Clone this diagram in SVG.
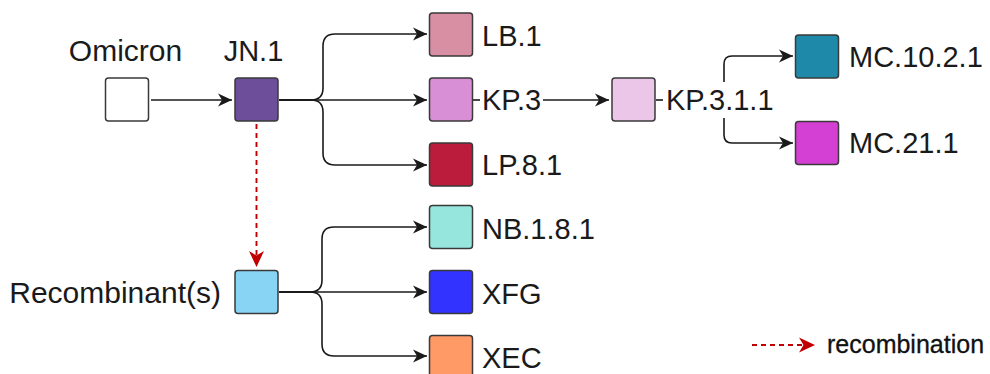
<svg xmlns="http://www.w3.org/2000/svg" width="990" height="374" viewBox="0 0 990 374">
  <defs>
    <marker id="arrow" markerUnits="userSpaceOnUse" markerWidth="16" markerHeight="14" refX="14" refY="6.5" orient="auto" overflow="visible">
      <path d="M0,0 L14,6.5 L0,13 L4,6.5 Z" fill="#1a1a1a"/>
    </marker>
    <marker id="arrow-red" markerUnits="userSpaceOnUse" markerWidth="18" markerHeight="16" refX="16" refY="7.5" orient="auto" overflow="visible">
      <path d="M0,0 L16,7.5 L0,15 L4.5,7.5 Z" fill="#c00000"/>
    </marker>
    <style>
      .box { stroke: #3a3a3a; stroke-width: 1.5; }
      .lbl { font-family: "Liberation Sans", Arial, sans-serif; font-size: 29px; fill: #1a1a1a; }
      .lbl-lg { font-size: 30px; }
      .legend { font-family: "Liberation Sans", Arial, sans-serif; font-size: 25px; fill: #111111; stroke: #111111; stroke-width: 0.3; }
      .edge { fill: none; stroke: #1a1a1a; stroke-width: 1.6; }
      .tick { fill: none; stroke: #1a1a1a; stroke-width: 1.6; }
      .recomb { fill: none; stroke: #c00000; stroke-width: 1.9; stroke-dasharray: 5 4; }
    </style>
  </defs>

  <!-- connectors -->
  <g id="connectors">
    <path class="edge" d="M151,100 H232" marker-end="url(#arrow)"/>
    <!-- JN.1 fan-out -->
    <path class="edge" d="M279,100 H427" marker-end="url(#arrow)"/>
    <path class="edge" d="M279,100 H311 Q323,100 323,88 V46 Q323,34 335,34 H427" marker-end="url(#arrow)"/>
    <path class="edge" d="M279,100 H311 Q323,100 323,112 V153 Q323,165 335,165 H427" marker-end="url(#arrow)"/>
    <!-- KP.3 to KP.3.1.1 -->
    <path class="tick" d="M473,100 H480"/>
    <path class="edge" d="M543,100 H609" marker-end="url(#arrow)"/>
    <path class="tick" d="M656,100 H663"/>
    <!-- KP.3.1.1 fan-out -->
    <path class="edge" d="M724,82 V64 Q724,56 732,56 H793" marker-end="url(#arrow)"/>
    <path class="edge" d="M724,118 V135 Q724,143 732,143 H793" marker-end="url(#arrow)"/>
    <!-- Recombinant fan-out -->
    <path class="edge" d="M279,292 H427" marker-end="url(#arrow)"/>
    <path class="edge" d="M279,292 H310 Q322,292 322,280 V239 Q322,227 334,227 H427" marker-end="url(#arrow)"/>
    <path class="edge" d="M279,292 H310 Q322,292 322,304 V344 Q322,356 334,356 H427" marker-end="url(#arrow)"/>
    <!-- recombination link -->
    <path class="recomb" d="M256.5,124 V267" marker-end="url(#arrow-red)"/>
  </g>

  <!-- nodes -->
  <g id="omicron">
    <rect class="box" x="105.5" y="78" width="43" height="43" rx="3" fill="#ffffff"/>
    <text class="lbl lbl-lg" x="125.5" y="61" text-anchor="middle">Omicron</text>
  </g>
  <g id="jn1">
    <rect class="box" x="235" y="78" width="43" height="43" rx="3" fill="#6c4e9b"/>
    <text class="lbl" x="253.5" y="61" text-anchor="middle">JN.1</text>
  </g>
  <g id="lb1">
    <rect class="box" x="429.5" y="13" width="43" height="43" rx="3" fill="#d98fa3"/>
    <text class="lbl" x="482" y="46">LB.1</text>
  </g>
  <g id="kp3">
    <rect class="box" x="429.5" y="78" width="43" height="43" rx="3" fill="#d88fd6"/>
    <text class="lbl" x="482" y="110">KP.3</text>
  </g>
  <g id="lp81">
    <rect class="box" x="429.5" y="143" width="43" height="43" rx="3" fill="#bb1c3b"/>
    <text class="lbl" x="482" y="175">LP.8.1</text>
  </g>
  <g id="kp311">
    <rect class="box" x="612" y="78" width="43" height="43" rx="3" fill="#ebc6e9"/>
    <text class="lbl" x="666" y="110">KP.3.1.1</text>
  </g>
  <g id="mc1021">
    <rect class="box" x="795.5" y="35" width="43" height="43" rx="3" fill="#1f89a9"/>
    <text class="lbl" x="849" y="67">MC.10.2.1</text>
  </g>
  <g id="mc211">
    <rect class="box" x="795.5" y="121.5" width="43" height="43" rx="3" fill="#d43fd4"/>
    <text class="lbl" x="849" y="153">MC.21.1</text>
  </g>
  <g id="recombinants">
    <rect class="box" x="235" y="270.5" width="43" height="43" rx="3" fill="#88d4f5"/>
    <text class="lbl lbl-lg" x="221" y="302.5" text-anchor="end">Recombinant(s)</text>
  </g>
  <g id="nb181">
    <rect class="box" x="429.5" y="205.5" width="43" height="43" rx="3" fill="#97e6de"/>
    <text class="lbl" x="482" y="239">NB.1.8.1</text>
  </g>
  <g id="xfg">
    <rect class="box" x="429.5" y="270.5" width="43" height="43" rx="3" fill="#3333ff"/>
    <text class="lbl" x="482" y="304">XFG</text>
  </g>
  <g id="xec">
    <rect class="box" x="429.5" y="335.5" width="43" height="43" rx="3" fill="#ff9966"/>
    <text class="lbl" x="482" y="368">XEC</text>
  </g>

  <!-- legend -->
  <g id="legend">
    <path class="recomb" d="M752,345 H815" marker-end="url(#arrow-red)"/>
    <text class="legend" x="827" y="353">recombination</text>
  </g>
</svg>
